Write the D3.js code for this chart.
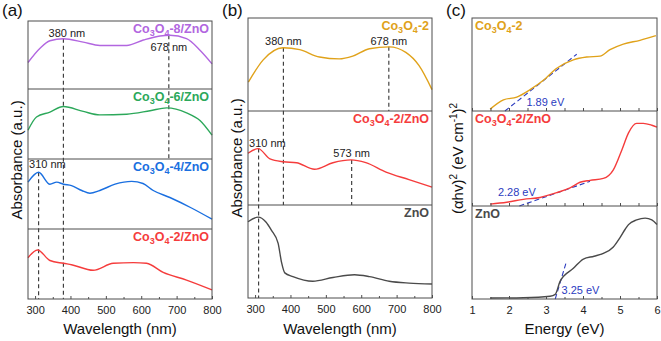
<!DOCTYPE html>
<html>
<head>
<meta charset="utf-8">
<script src="https://cdn.jsdelivr.net/npm/d3@7"></script>
<style>
  body { margin: 0; background: #fff; }
  svg { display: block; font-family: "Liberation Sans", Arial, sans-serif; }
</style>
</head>
<body>
<svg id="chart" width="661" height="341"></svg>
<script>
// ---------- data ----------
const nmTicks = [300, 400, 500, 600, 700, 800];
const eVTicks = [1, 2, 3, 4, 5, 6];

// (a) absorbance, stacked (wavelength nm, a.u.)
const co8ZnO = [[280,39],[314,60],[342,71],[380,74],[436,69],[483,64],[559,64],[606,72],[653,78],[681,79],[728,74],[766,57],[800,37]];
const co6ZnO = [[280,41],[304,60],[342,67],[380,75],[436,68],[483,63],[559,64],[625,69],[672,73],[728,66],[766,55],[800,34]];
const co4ZnO = [[280,67],[310,81],[342,64],[361,67],[380,64],[403,62],[432,55],[455,51],[483,55],[526,64],[573,68],[605,65],[634,55],[681,45],[742,30],[800,14]];
const co2ZnO_a = [[280,59],[307,70],[342,55],[380,51],[403,49],[464,41],[521,51],[578,52],[615,51],[662,38],[728,27],[800,13]];

// (b) absorbance
const co2_b = [[281,31],[323,55],[379,68],[426,66],[482,58],[538,56],[576,59],[623,67],[679,69],[726,63],[763,49],[800,23]];
const co2ZnO_b = [[280,55],[309,60],[342,49],[380,46],[417,45],[468,38],[520,45],[571,48],[613,45],[670,35],[735,27],[800,19]];
const zno_b = [[280,82],[309,87],[330,82],[346,73],[365,59],[375,38],[384,27],[407,23],[463,18],[520,22],[581,25],[623,23],[679,18],[735,16],[800,15]];

// (c) Tauc plots (energy eV, (ahv)^2 a.u.)
const co2_c = [[1.49,2],[1.85,12],[2.21,15],[2.57,23],[2.93,33],[3.29,46],[3.74,55],[4.1,58],[4.46,59],[4.73,66],[5.09,72],[5.54,76],[5.97,81]];
const co2ZnO_c = [[1.49,2],[1.94,4],[2.39,7],[2.84,9],[3.29,14],[3.65,19],[3.92,25],[4.19,27],[4.55,29],[4.82,38],[5.05,59],[5.23,77],[5.45,87],[5.63,87],[5.86,85],[6.0,83]];
const zno_c = [[1.49,1],[2.39,1.4],[3.11,3],[3.25,5],[3.38,19],[3.74,33],[4.01,43],[4.3,46],[4.55,49],[4.82,56],[5.0,66],[5.14,75],[5.23,80],[5.45,85],[5.68,87],[5.86,85],[6.0,80]];

// band-gap tangents (eV, value)
const fit189 = [[1.89,0],[3.83,61]];
const fit228 = [[2.28,0],[4.19,26]];
const fit325 = [[3.25,0],[3.55,40]];

const svg = d3.select("#chart");
svg.append("rect").attr("width", 661).attr("height", 341).attr("fill", "#fff");

const frameColor = "#4d4d4d";
const gapColor = "#2b3bbf";

// turns "Co_3O_4" into subscripts, "^2" into superscripts
function richText(text, str, small, shift) {
  const parts = str.split(/([_^]-?\d+)/);
  let offset = 0;
  parts.forEach(p => {
    if (!p) return;
    const t = text.append("tspan");
    if (p[0] === "_" || p[0] === "^") {
      const want = p[0] === "_" ? shift : -shift;
      t.text(p.slice(1)).attr("font-size", small).attr("dy", want - offset);
      offset = want;
    } else {
      t.text(p).attr("dy", -offset);
      offset = 0;
    }
  });
}

function drawPanel(cfg) {
  const g = svg.append("g");
  const x = d3.scaleLinear().domain(cfg.domain).range([cfg.left, cfg.right]);
  const ys = cfg.rows.map(r => d3.scaleLinear().domain([0, 100]).range([r[1], r[0]]));
  const top = cfg.rows[0][0], bottom = cfg.rows[cfg.rows.length - 1][1];

  // guides (dashed)
  cfg.guides.forEach(d => {
    g.append("line")
      .attr("x1", x(d.x)).attr("x2", x(d.x))
      .attr("y1", ys[d.row](d.v)).attr("y2", cfg.rows[d.toRow][1])
      .attr("stroke", "#333").attr("stroke-width", 1.1)
      .attr("stroke-dasharray", "4,3");
  });

  // tangents
  (cfg.fits || []).forEach(f => {
    const line = d3.line().x(d => x(d[0])).y(d => ys[f.row](d[1]));
    g.append("path").datum(f.data).attr("d", line)
      .attr("fill", "none").attr("stroke", gapColor)
      .attr("stroke-width", 1.1).attr("stroke-dasharray", "5,3");
  });

  // curves
  cfg.series.forEach(s => {
    const line = d3.line().x(d => x(d[0])).y(d => ys[s.row](d[1])).curve(d3.curveMonotoneX);
    g.append("path").datum(s.data).attr("d", line)
      .attr("fill", "none").attr("stroke", s.color).attr("stroke-width", 1.4);
    const t = g.append("text")
      .attr("x", cfg.nameAnchor === "end" ? cfg.right - 3 : cfg.left + 3)
      .attr("y", cfg.rows[s.row][0] + 12)
      .attr("text-anchor", cfg.nameAnchor)
      .attr("font-size", 12.5).attr("font-weight", "bold")
      .attr("fill", s.color);
    richText(t, s.name, 9, 3);
  });

  // notes
  cfg.notes.forEach(n => {
    g.append("text")
      .attr("x", x(n.x)).attr("y", ys[n.row](n.v))
      .attr("text-anchor", n.anchor || "middle")
      .attr("font-size", 11).attr("fill", n.color || "#222")
      .text(n.text);
  });

  // frame + dividers
  g.append("rect")
    .attr("x", cfg.left).attr("y", top)
    .attr("width", cfg.right - cfg.left).attr("height", bottom - top)
    .attr("fill", "none").attr("stroke", frameColor).attr("stroke-width", 1);
  cfg.rows.slice(0, -1).forEach(r => {
    g.append("line").attr("x1", cfg.left).attr("x2", cfg.right)
      .attr("y1", r[1]).attr("y2", r[1])
      .attr("stroke", frameColor).attr("stroke-width", 1);
  });

  // bottom axis, inward ticks
  const ax = g.append("g").attr("transform", `translate(0,${bottom})`)
    .call(d3.axisBottom(x).tickValues(cfg.ticks).tickFormat(d3.format("d"))
      .tickSize(-3).tickSizeOuter(0).tickPadding(7));
  ax.select(".domain").remove();
  ax.selectAll("line").attr("stroke", frameColor);
  ax.selectAll("text").attr("font-size", 11).attr("fill", "#222")
    .attr("font-family", "Liberation Sans, Arial, sans-serif");
  const minor = g.append("g").attr("transform", `translate(0,${bottom})`)
    .call(d3.axisBottom(x).tickValues(cfg.minor).tickSize(-2).tickFormat(""));
  minor.select(".domain").remove();
  minor.selectAll("line").attr("stroke", frameColor);

  if (cfg.dividerTicks) {
    cfg.rows.slice(0, -1).forEach(r => {
      const d = g.append("g").attr("transform", `translate(0,${r[1]})`)
        .call(d3.axisBottom(x).tickValues(cfg.ticks.concat(cfg.minor)).tickSize(-3).tickFormat(""));
      d.select(".domain").remove();
      d.selectAll("line").attr("stroke", frameColor);
    });
  }

  // axis titles
  g.append("text")
    .attr("x", (cfg.left + cfg.right) / 2).attr("y", 334)
    .attr("text-anchor", "middle").attr("font-size", 15).attr("fill", "#111")
    .text(cfg.xTitle);
  const yt = g.append("text")
    .attr("transform", `translate(${cfg.yTitleX},${(top + bottom) / 2}) rotate(-90)`)
    .attr("text-anchor", "middle").attr("font-size", 15).attr("fill", "#111");
  richText(yt, cfg.yTitle, 10, 6);

  // panel letter
  g.append("text")
    .attr("x", cfg.left - 26).attr("y", 16)
    .attr("font-size", 17).attr("fill", "#111")
    .text(cfg.letter);
}

drawPanel({
  letter: "(a)", left: 28, right: 212, domain: [280, 800],
  rows: [[21, 89], [89, 159], [159, 229], [229, 299]],
  ticks: nmTicks, minor: [350, 450, 550, 650, 750],
  xTitle: "Wavelength (nm)", yTitle: "Absorbance (a.u.)", yTitleX: 22,
  nameAnchor: "end",
  series: [
    { row: 0, data: co8ZnO, color: "#b266e0", name: "Co_3O_4-8/ZnO" },
    { row: 1, data: co6ZnO, color: "#2ca85a", name: "Co_3O_4-6/ZnO" },
    { row: 2, data: co4ZnO, color: "#1a6fe0", name: "Co_3O_4-4/ZnO" },
    { row: 3, data: co2ZnO_a, color: "#f53c3c", name: "Co_3O_4-2/ZnO" }
  ],
  guides: [
    { x: 380, row: 0, v: 74, toRow: 3 },
    { x: 678, row: 0, v: 79, toRow: 1 },
    { x: 310, row: 2, v: 81, toRow: 3 }
  ],
  notes: [
    { text: "380 nm", x: 390, row: 0, v: 77 },
    { text: "678 nm", x: 678, row: 0, v: 56 },
    { text: "310 nm", x: 283, row: 2, v: 87, anchor: "start" }
  ]
});

drawPanel({
  letter: "(b)", left: 248, right: 432, domain: [280, 800],
  rows: [[18, 111], [111, 205], [205, 298]],
  ticks: nmTicks, minor: [350, 450, 550, 650, 750],
  xTitle: "Wavelength (nm)", yTitle: "Absorbance (a.u.)", yTitleX: 242,
  nameAnchor: "end",
  series: [
    { row: 0, data: co2_b, color: "#e0a21a", name: "Co_3O_4-2" },
    { row: 1, data: co2ZnO_b, color: "#f53c3c", name: "Co_3O_4-2/ZnO" },
    { row: 2, data: zno_b, color: "#4a4a4a", name: "ZnO" }
  ],
  guides: [
    { x: 380, row: 0, v: 68, toRow: 1 },
    { x: 678, row: 0, v: 69, toRow: 0 },
    { x: 310, row: 1, v: 60, toRow: 2 },
    { x: 573, row: 1, v: 48, toRow: 1 }
  ],
  notes: [
    { text: "380 nm", x: 380, row: 0, v: 71 },
    { text: "678 nm", x: 678, row: 0, v: 71 },
    { text: "310 nm", x: 283, row: 1, v: 62, anchor: "start" },
    { text: "573 nm", x: 573, row: 1, v: 51 }
  ]
});

drawPanel({
  letter: "(c)", left: 472, right: 657, domain: [1, 6],
  rows: [[18, 111], [111, 206], [206, 299]],
  ticks: eVTicks, minor: [1.5, 2.5, 3.5, 4.5, 5.5], dividerTicks: true,
  xTitle: "Energy (eV)", yTitle: "(\u03b1hv)^2 (eV cm^-1)^2", yTitleX: 463,
  nameAnchor: "start",
  series: [
    { row: 0, data: co2_c, color: "#e0a21a", name: "Co_3O_4-2" },
    { row: 1, data: co2ZnO_c, color: "#f53c3c", name: "Co_3O_4-2/ZnO" },
    { row: 2, data: zno_c, color: "#4a4a4a", name: "ZnO" }
  ],
  fits: [
    { row: 0, data: fit189 },
    { row: 1, data: fit228 },
    { row: 2, data: fit325 }
  ],
  guides: [],
  notes: [
    { text: "1.89 eV", x: 2.47, row: 0, v: 5, anchor: "start", color: gapColor },
    { text: "2.28 eV", x: 1.70, row: 1, v: 10.5, anchor: "start", color: gapColor },
    { text: "3.25 eV", x: 3.42, row: 2, v: 5.4, anchor: "start", color: gapColor }
  ]
});
</script>
</body>
</html>
